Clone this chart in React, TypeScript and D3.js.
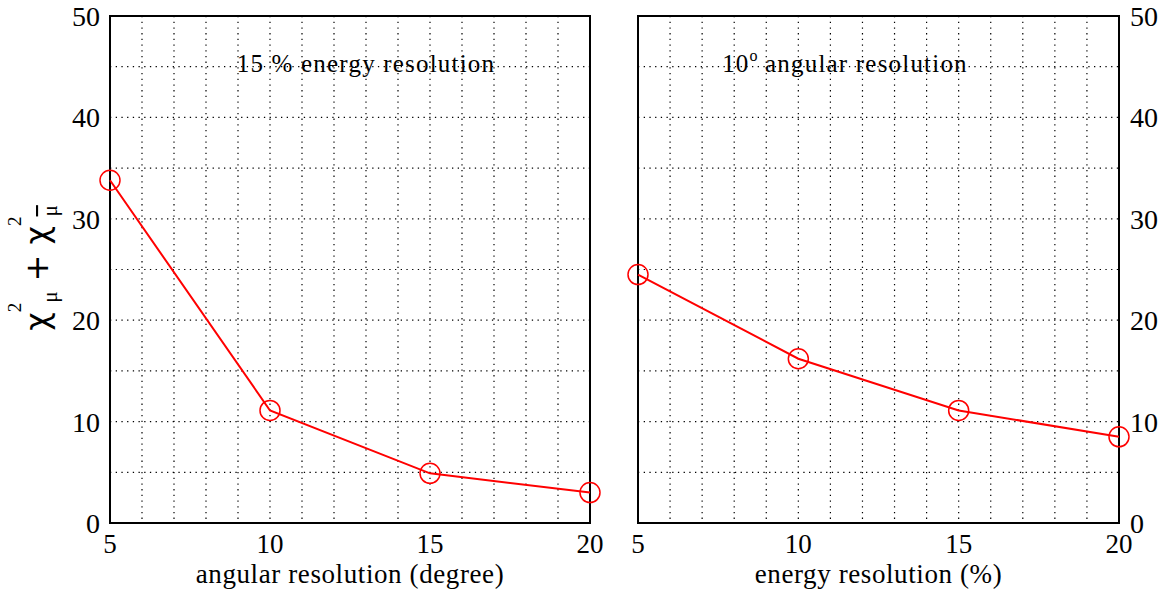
import * as d3 from "d3";
import React from "react";

const resolutionSteps = [5, 10, 15, 20];
const chi2VsAngular = [33.8, 11.1, 4.9, 3.0];
const chi2VsEnergy = [24.5, 16.2, 11.1, 8.5];
const yTicks = [0, 10, 20, 30, 40, 50];
const xTicks = [5, 10, 15, 20];

const W = 1167;
const H = 590;
const FONT = "'Liberation Serif', 'Times New Roman', serif";
const RED = "rgb(255,0,0)";

interface PanelProps {
  left: number;
  right: number;
  values: number[];
  axisSide: "left" | "right";
  xLabel: string;
  title: React.ReactNode;
  titleX: number;
}

const top = 16;
const bottom = 523;

function Panel({ left, right, values, axisSide, xLabel, title, titleX }: PanelProps) {
  const x = d3.scaleLinear().domain([5, 20]).range([left, right]);
  const y = d3.scaleLinear().domain([0, 50]).range([bottom, top]);
  const line = d3
    .line<number>()
    .x((_, i) => x(resolutionSteps[i]))
    .y((d) => y(d));

  const vGrid = d3.range(6, 20);
  const hGrid = d3.range(5, 50, 5);

  return (
    <g>
      {/* dotted grid */}
      {vGrid.map((v) => (
        <line key={"v" + v} x1={x(v)} x2={x(v)} y1={top} y2={bottom} stroke="#000" strokeWidth={1.2} strokeDasharray="1.3,4.4" />
      ))}
      {hGrid.map((v) => (
        <line key={"h" + v} x1={left} x2={right} y1={y(v)} y2={y(v)} stroke="#000" strokeWidth={1.2} strokeDasharray="1.3,4.4" />
      ))}
      <rect x={left} y={top} width={right - left} height={bottom - top} fill="none" stroke="#000" strokeWidth={2} />

      {/* y tick labels */}
      {yTicks.map((t) => (
        <text
          key={"yt" + t}
          x={axisSide === "left" ? left - 10 : right + 11}
          y={y(t) + 10}
          textAnchor={axisSide === "left" ? "end" : "start"}
          fontSize={28}
          fontFamily={FONT}
        >
          {t}
        </text>
      ))}

      {/* x tick labels */}
      {xTicks.map((t) => (
        <text key={"xt" + t} x={x(t)} y={553} textAnchor="middle" fontSize={27} fontFamily={FONT}>
          {t}
        </text>
      ))}

      <text x={(left + right) / 2} y={583} textAnchor="middle" fontSize={27} letterSpacing={0.6} fontFamily={FONT}>
        {xLabel}
      </text>

      <text x={titleX} y={72} textAnchor="middle" fontSize={25} letterSpacing={1.2} fontFamily={FONT}>
        {title}
      </text>

      <path d={line(values) ?? ""} fill="none" stroke={RED} strokeWidth={2} />
      {values.map((v, i) => (
        <circle key={"c" + i} cx={x(resolutionSteps[i])} cy={y(v)} r={10} fill="none" stroke={RED} strokeWidth={1.5} />
      ))}
    </g>
  );
}

export default function App() {
  return (
    <svg width={W} height={H} style={{ position: "absolute", left: 0, top: 0, background: "#fff" }}>
      <Panel
        left={110}
        right={590}
        values={chi2VsAngular}
        axisSide="left"
        xLabel="angular resolution (degree)"
        title="15 % energy resolution"
        titleX={366}
      />
      <Panel
        left={638}
        right={1119}
        values={chi2VsEnergy}
        axisSide="right"
        xLabel="energy resolution (%)"
        title={
          <>
            10<tspan dy={-11} fontSize={16} letterSpacing={0}>o</tspan>
            <tspan dy={11}> angular resolution</tspan>
          </>
        }
        titleX={845}
      />

      {/* y axis label: chi^2_mu + chi^2_mubar */}
      <text transform="translate(48,268) rotate(-90)" textAnchor="middle" fontFamily="'DejaVu Sans', sans-serif" fontSize={32}>
        χ<tspan dy={-27} fontSize={19} fontFamily={FONT}>2</tspan>
        <tspan dy={36} fontSize={21} fontFamily={FONT}>μ</tspan>
        <tspan dy={-9} fontSize={32}> + χ</tspan>
        <tspan dy={-27} fontSize={19} fontFamily={FONT}>2</tspan>
        <tspan dy={36} fontSize={21} fontFamily={FONT} textDecoration="overline">μ</tspan>
      </text>
    </svg>
  );
}
